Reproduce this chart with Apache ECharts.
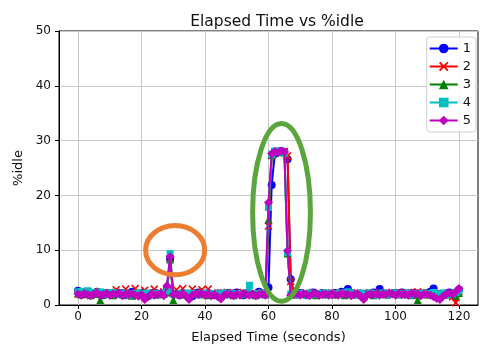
<!DOCTYPE html>
<html>
<head>
<meta charset="utf-8">
<script src="https://cdn.jsdelivr.net/npm/echarts@6/dist/echarts.min.js"></script>
<style>html,body{margin:0;padding:0;background:#fff}#c{width:489px;height:349px}</style>
</head>
<body>
<div id="c"></div>
<script>
const xs = [0,1,2,3,4,5,6,7,8,9,10,11,12,13,14,15,16,17,18,19,20,21,22,23,24,25,26,27,28,29,30,31,32,33,34,35,36,37,38,39,40,41,42,43,44,45,46,47,48,49,50,51,52,53,54,55,56,57,58,59,60,61,62,63,64,65,66,67,68,69,70,71,72,73,74,75,76,77,78,79,80,81,82,83,84,85,86,87,88,89,90,91,92,93,94,95,96,97,98,99,100,101,102,103,104,105,106,107,108,109,110,111,112,113,114,115,116,117,118,119,120];

const y1 = [2.6,2.2,2.0,2.3,1.9,2.1,2.4,2.0,1.8,2.2,
  2.1,1.9,2.3,2.0,2.2,1.8,2.1,2.4,1.9,2.0,
  2.2,1.7,1.6,2.1,2.3,1.9,2.0,2.2,3.1,8.4,
  2.0,2.1,1.8,2.2,2.0,1.9,1.6,2.1,2.3,2.0,
  1.9,2.2,2.0,1.8,2.1,1.5,2.0,2.2,1.9,2.1,
  2.3,2.0,1.8,2.2,2.1,1.9,2.0,2.4,2.1,2.0,
  3.2,21.9,27.6,28.0,28.1,27.9,26.6,4.7,2.3,1.9,
  2.2,2.0,1.8,2.1,2.3,2.0,1.9,2.2,2.0,2.1,
  1.9,2.2,2.0,2.4,2.1,2.9,2.2,1.9,2.0,1.8,
  1.4,2.1,2.0,2.3,2.1,2.9,2.2,2.0,1.9,2.1,
  2.2,2.0,2.3,1.9,2.1,2.0,2.2,1.8,2.1,2.0,
  2.2,2.4,3.0,2.0,1.3,1.9,2.1,2.3,2.0,2.2,
  2.8];
const y2 = [2.0,2.3,1.8,2.1,2.0,2.4,1.9,2.2,2.0,2.1,
  2.3,2.0,2.8,1.9,2.2,2.9,2.0,2.1,3.0,2.2,
  2.0,2.7,1.8,2.1,2.9,2.0,2.2,2.4,2.6,8.5,
  2.1,2.8,2.0,3.0,2.1,1.9,2.9,2.2,2.0,2.8,
  2.1,2.9,2.0,1.9,2.2,2.1,2.0,2.3,1.9,2.2,
  2.0,2.1,2.3,1.9,2.0,2.2,2.1,1.9,2.3,2.0,
  14.4,27.3,27.9,28.0,27.8,28.0,27.2,4.3,2.2,2.0,
  2.1,1.9,2.2,2.0,2.3,2.1,1.9,2.0,2.2,2.1,
  2.0,2.2,1.9,2.1,2.3,2.0,2.1,1.9,2.2,2.0,
  1.8,2.0,2.2,2.1,1.9,2.3,2.0,2.1,2.2,1.9,
  2.1,2.3,2.0,2.2,1.9,2.1,2.0,2.4,2.2,2.0,
  2.1,1.9,2.2,2.0,1.6,2.1,2.0,1.8,1.5,0.4,
  2.5];
const y3 = [2.1,1.9,2.2,2.0,1.8,2.1,2.0,0.9,1.9,2.2,
  2.0,1.8,2.1,2.2,1.9,2.0,2.1,1.7,2.0,2.2,
  1.9,2.1,1.8,2.0,2.2,1.9,2.1,2.0,2.3,8.3,
  0.9,2.0,2.2,1.9,2.1,1.8,2.0,2.2,1.9,2.1,
  2.0,1.8,2.1,1.9,2.2,2.0,1.9,2.1,2.0,1.8,
  2.1,2.0,1.9,2.2,2.0,2.1,1.8,2.0,2.2,1.9,
  15.6,27.4,28.0,27.9,28.1,27.8,9.4,2.4,1.9,2.1,
  2.0,2.2,1.9,2.1,2.0,1.8,2.1,2.2,1.9,2.0,
  2.1,1.9,2.0,2.2,1.8,2.1,2.0,1.9,2.2,2.0,
  1.9,2.1,2.0,1.8,2.2,2.0,2.1,1.9,2.0,2.2,
  2.0,1.9,2.1,2.2,2.0,1.8,2.1,0.9,2.0,2.1,
  1.9,2.0,2.2,2.1,1.8,2.0,1.9,2.1,2.0,1.7,
  2.2];
const y4 = [2.4,2.5,2.2,2.6,2.0,2.3,2.1,2.4,1.9,2.2,
  2.0,2.3,1.9,2.1,2.2,2.0,1.8,2.1,2.0,2.2,
  2.1,1.9,2.2,2.0,1.8,2.1,2.0,2.2,2.5,9.4,
  2.0,1.9,2.1,2.0,2.2,1.8,2.1,2.0,1.9,2.1,
  2.2,2.0,1.9,2.1,1.8,2.0,2.2,2.1,1.9,2.0,
  2.1,1.9,2.0,2.2,3.6,2.0,2.1,1.9,2.2,2.0,
  17.8,27.5,28.1,27.9,28.0,27.7,9.6,2.0,2.1,1.9,
  2.1,2.0,1.8,2.2,2.0,1.9,2.1,2.0,2.2,1.9,
  2.0,2.1,1.9,2.2,2.0,2.4,2.1,1.9,2.0,2.2,
  1.9,2.0,2.2,2.1,1.8,2.0,2.2,1.9,2.1,2.0,
  2.2,1.9,2.1,2.0,2.2,1.8,2.0,2.1,1.9,2.2,
  2.0,2.1,2.3,1.9,2.0,2.2,1.8,2.1,2.0,2.3,
  2.6];
const y5 = [2.0,1.8,2.1,1.9,1.7,2.0,2.2,1.8,1.9,2.1,
  1.8,2.0,1.9,2.2,1.7,2.0,1.9,2.1,1.8,1.6,
  1.9,1.0,1.5,2.0,1.8,1.9,2.1,1.7,3.5,8.8,
  1.9,2.0,1.8,2.1,1.6,1.0,1.8,2.0,1.9,2.1,
  1.8,2.0,1.7,1.9,1.5,1.1,1.8,2.0,1.9,1.7,
  2.0,1.8,2.1,1.9,1.8,2.0,1.7,1.9,2.0,1.8,
  18.7,27.6,28.0,27.8,28.1,27.9,9.9,1.8,1.9,2.1,
  1.8,2.0,1.9,1.7,2.0,2.1,1.8,1.9,2.0,1.8,
  2.0,1.9,1.8,2.1,1.9,2.0,1.7,1.9,2.1,1.6,
  1.0,1.8,2.0,1.9,2.1,1.8,2.0,1.9,2.2,2.0,
  1.8,2.1,1.9,2.0,1.8,2.2,1.9,2.0,1.7,2.0,
  1.9,1.8,1.5,1.2,1.0,1.6,2.0,2.2,1.9,2.4,
  3.0];

const seriesNames = ['1','2','3','4','5'];
const seriesValues = [y1, y2, y3, y4, y5];
const seriesColors = ['#0000ff','#ff0000','#008000','#00bfbf','#bf00bf'];
const seriesSymbols = ['circle',
  'path://M0,1.4L1.4,0L5,3.6L8.6,0L10,1.4L6.4,5L10,8.6L8.6,10L5,6.4L1.4,10L0,8.6L3.6,5Z',
  'triangle','rect','diamond'];
const seriesSymbolSizes = [8, 8, 8, 7, 9];
const xTicks = [0,20,40,60,80,100,120];
const xMin = -6, xMax = 126;
const yMin = 0, yMax = 50, yStep = 10;

// annotation ellipses in data units
const annotations = [
  {cx: 30.6, cy: 10.0, rx: 9.3, ry: 4.5, color: '#ed7d31'},
  {cx: 64.1, cy: 16.9, rx: 9.1, ry: 16.2, color: '#5aa53c'}
];

const FONT = 'DejaVu Sans';
const chart = echarts.init(document.getElementById('c'), null, {renderer: 'canvas'});

const series = seriesNames.map((n, i) => ({
  name: n,
  type: 'line',
  data: xs.map((x, j) => [x, seriesValues[i][j]]),
  symbol: seriesSymbols[i],
  symbolSize: seriesSymbolSizes[i],
  showAllSymbol: true,
  color: seriesColors[i],
  lineStyle: {width: 2, color: seriesColors[i]},
  itemStyle: {color: seriesColors[i]},
  animation: false,
  z: 2 + i
}));

chart.setOption({
  animation: false,
  textStyle: {fontFamily: FONT},
  title: {
    text: 'Elapsed Time vs %idle',
    left: 272, textAlign: 'center', top: 9,
    textStyle: {fontFamily: FONT, fontSize: 15.5, fontWeight: 'normal', color: '#111'}
  },
  grid: {left: 59, right: 11, top: 31, bottom: 41, show: true, borderColor: '#000', borderWidth: 1, containLabel: false},
  legend: {
    data: seriesNames,
    orient: 'vertical',
    right: 13, top: 37,
    itemWidth: 28, itemHeight: 12, itemGap: 5,
    padding: [5, 5, 5, 2],
    borderColor: '#d0d0d0', borderWidth: 1, borderRadius: 3,
    backgroundColor: 'rgba(255,255,255,0.85)',
    textStyle: {fontFamily: FONT, fontSize: 13, color: '#111'}
  },
  xAxis: {
    type: 'value', min: xMin, max: xMax,
    name: 'Elapsed Time (seconds)', nameLocation: 'middle', nameGap: 26,
    nameTextStyle: {fontFamily: FONT, fontSize: 13, color: '#111'},
    axisLine: {show: true, onZero: false, lineStyle: {color: '#000', width: 1}},
    axisTick: {show: true, length: 4, customValues: xTicks, lineStyle: {color: '#000'}},
    axisLabel: {customValues: xTicks, fontFamily: FONT, fontSize: 12, color: '#111', margin: 6},
    splitLine: {show: true, lineStyle: {color: '#c8c8c8', width: 1}}
  },
  yAxis: {
    type: 'value', min: yMin, max: yMax, interval: yStep,
    name: '%idle', nameLocation: 'middle', nameGap: 31,
    nameTextStyle: {fontFamily: FONT, fontSize: 13, color: '#111'},
    axisLine: {show: true, onZero: false, lineStyle: {color: '#000', width: 1}},
    axisTick: {show: true, length: 4, lineStyle: {color: '#000'}},
    axisLabel: {fontFamily: FONT, fontSize: 12, color: '#111', margin: 8},
    splitLine: {show: true, lineStyle: {color: '#c8c8c8', width: 1}}
  },
  series: series
});

const graphics = annotations.map(a => {
  const c = chart.convertToPixel({gridIndex: 0}, [a.cx, a.cy]);
  const e = chart.convertToPixel({gridIndex: 0}, [a.cx + a.rx, a.cy + a.ry]);
  return {
    type: 'ellipse', z: 100,
    shape: {cx: c[0], cy: c[1], rx: Math.abs(e[0] - c[0]), ry: Math.abs(c[1] - e[1])},
    style: {fill: 'none', stroke: a.color, lineWidth: 5}
  };
});
chart.setOption({graphic: graphics});
</script>
</body>
</html>
